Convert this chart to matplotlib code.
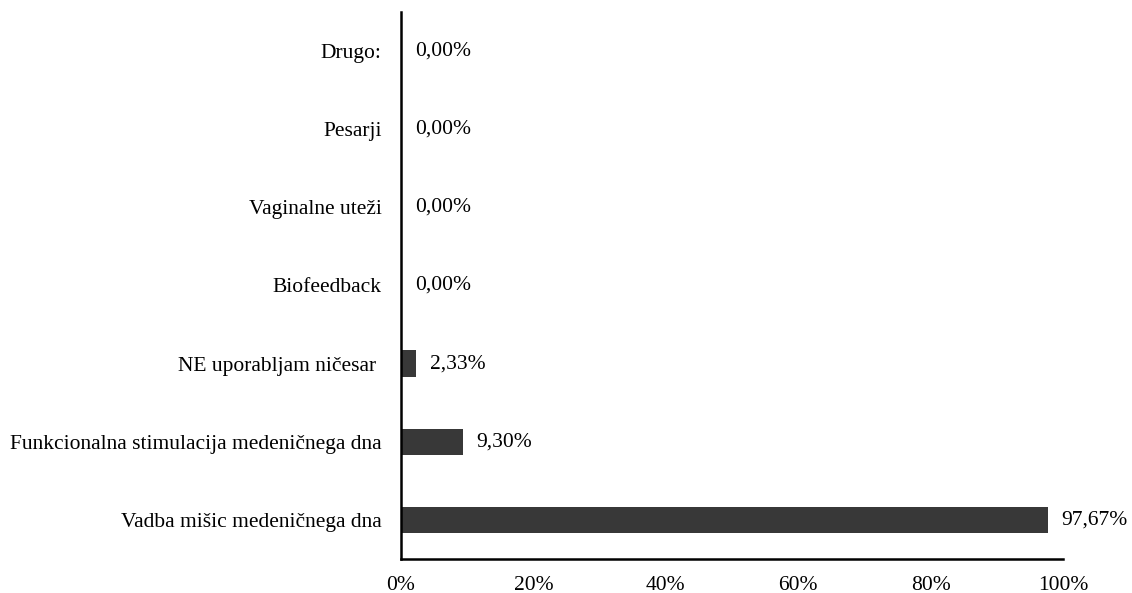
import matplotlib
matplotlib.use("Agg")
import matplotlib.pyplot as plt
from matplotlib.ticker import FuncFormatter

categories = ["Vadba mišic medeničnega dna",
              "Funkcionalna stimulacija medeničnega dna",
              "NE uporabljam ničesar ",
              "Biofeedback",
              "Vaginalne uteži",
              "Pesarji",
              "Drugo:"]
values = [97.67, 9.30, 2.33, 0.00, 0.00, 0.00, 0.00]
xticks = [0, 20, 40, 60, 80, 100]

plt.rcParams['font.family'] = ['Liberation Serif', 'DejaVu Serif']
FS = 15.5

fig = plt.figure(figsize=(11.32, 5.93), dpi=100)
ax = fig.add_axes([401/1132, 1-559/593, (1063-401)/1132, (559-12)/593])

y = list(range(len(categories)))
ax.barh(y, values, height=0.34, color="#383838")
for yi, v in zip(y, values):
    ax.text(v + 2.1, yi, f"{v:.2f}%".replace(".", ","), va="center", ha="left", fontsize=FS)

ax.set_xlim(0, 100)
ax.set_ylim(-0.5, 6.5)
ax.set_yticks(y)
ax.set_yticklabels(categories, fontsize=FS)
ax.set_xticks(xticks)
ax.xaxis.set_major_formatter(FuncFormatter(lambda v, p: f"{int(v)}%"))
ax.tick_params(axis='x', labelsize=FS, length=0, pad=12)
ax.tick_params(axis='y', length=0, pad=14)
for s in ["top", "right"]:
    ax.spines[s].set_visible(False)
for s in ["left", "bottom"]:
    ax.spines[s].set_linewidth(1.8)
    ax.spines[s].set_color("black")

fig.savefig("out.png", dpi=100)
